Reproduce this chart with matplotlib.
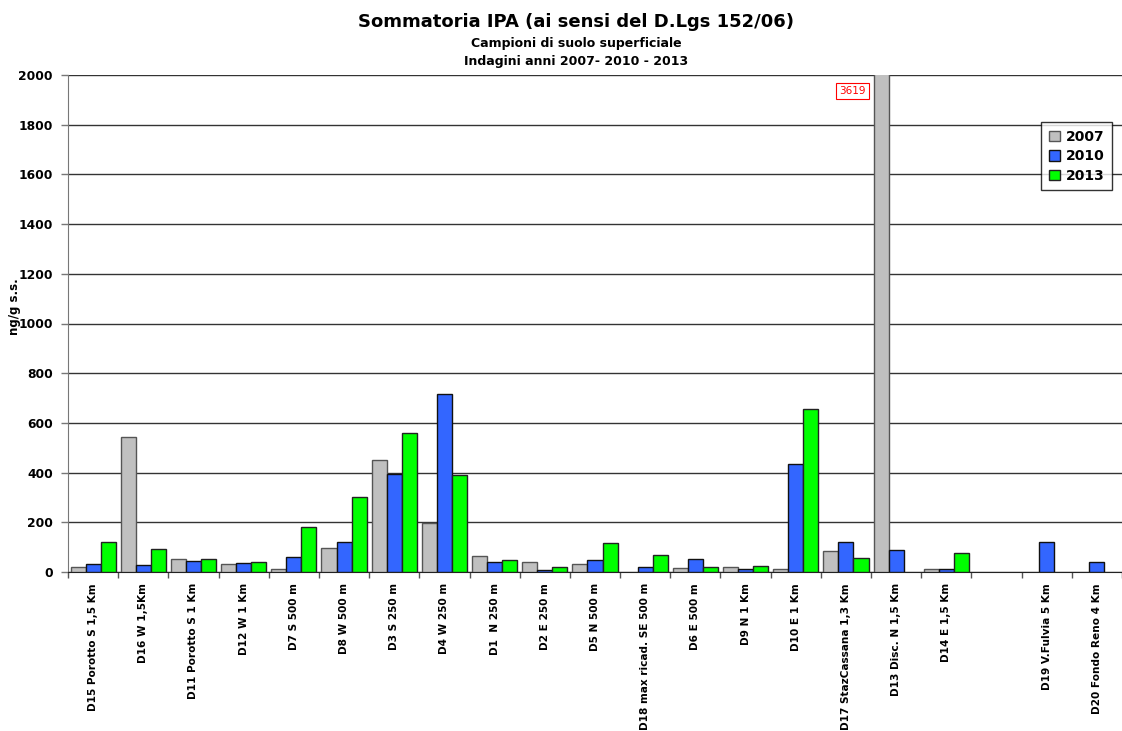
import numpy as np
import matplotlib
matplotlib.use("Agg")
import matplotlib.pyplot as plt

# Sampling points (one empty slot between D14 and D19)
stations = [
    "D15 Porotto S 1,5 Km", "D16 W 1,5Km", "D11 Porotto S 1 Km", "D12 W 1 Km",
    "D7 S 500 m", "D8 W 500 m", "D3 S 250 m", "D4 W 250 m", "D1  N 250 m",
    "D2 E 250 m", "D5 N 500 m", "D18 max ricad. SE 500 m", "D6 E 500 m",
    "D9 N 1 Km", "D10 E 1 Km", "D17 StazCassana 1,3 Km", "D13 Disc. N 1,5 Km",
    "D14 E 1,5 Km", "", "D19 V.Fulvia 5 Km", "D20 Fondo Reno 4 Km",
]
nan = np.nan
ipa_2007 = [22, 542, 54, 33, 12, 98, 452, 196, 65, 41, 33, nan, 16, 20, 14, 84, 3619, 12, nan, nan, nan]
ipa_2010 = [33, 29, 44, 37, 62, 120, 396, 716, 41, 8, 48, 22, 52, 14, 434, 120, 88, 12, nan, 120, 41]
ipa_2013 = [120, 92, 54, 41, 182, 301, 561, 390, 48, 20, 117, 70, 20, 26, 654, 58, nan, 77, nan, nan, nan]
years = ["2007", "2010", "2013"]
colors = ["#C0C0C0", "#3366FF", "#00FF00"]
edges = ["#555555", "#111111", "#222222"]

plt.rcParams["font.family"] = "DejaVu Sans"
plt.rcParams["font.weight"] = "bold"

fig = plt.figure(figsize=(11.22, 7.31), dpi=100)
ax = fig.add_axes([68 / 1122, 1 - 572 / 731, 1 - 68 / 1122, (572 - 75) / 731])

x = np.arange(len(stations))
w = 0.3
for i, (vals, c, ec, lab) in enumerate(zip([ipa_2007, ipa_2010, ipa_2013], colors, edges, years)):
    ax.bar(x + (i - 1) * w, vals, width=w, color=c, edgecolor=ec, linewidth=1.0,
           label=lab, zorder=3)

ax.set_ylim(0, 2000)
ax.set_xlim(-0.5, 20.41)
ax.set_yticks(np.arange(0, 2001, 200))
ax.yaxis.grid(True, color="#333333", linewidth=1.0, zorder=0)
ax.tick_params(axis="y", labelsize=8.8, length=5, width=1, color="#777777", pad=6)
for t in ax.get_yticklabels():
    t.set_fontweight("bold")

# category labels centred, tick marks on the boundaries
ax.set_xticks(x)
ax.set_xticklabels(stations, rotation=90, fontsize=7.6, fontweight="bold", va="top")
ax.tick_params(axis="x", length=0, pad=8)
ax.set_xticks(np.arange(-0.5, 21, 1), minor=True)
ax.tick_params(axis="x", which="minor", length=4, width=1, color="#555555")

for s in ["top", "right"]:
    ax.spines[s].set_visible(False)
ax.spines["left"].set_color("#777777")
ax.spines["bottom"].set_color("#222222")

ax.set_ylabel("ng/g s.s.", fontsize=8.5, fontweight="bold")
ax.yaxis.set_label_coords(-0.0445, 0.533)

# value of the clipped D13 bar
ax.text(16 - w - 0.57, 1935, f"{ipa_2007[16]:.0f}", color="red", fontsize=7.5,
        fontweight="normal", ha="center", va="center", zorder=5,
        bbox=dict(boxstyle="square,pad=0.3", facecolor="white", edgecolor="red", linewidth=0.8))

leg = ax.legend(loc="upper right", fontsize=10, frameon=True, fancybox=False,
                edgecolor="black", handlelength=0.8, handleheight=0.8, handletextpad=0.4,
                borderpad=0.55, labelspacing=0.4, borderaxespad=0)
leg.set_bbox_to_anchor((1112 / 1122, 1 - 122 / 731), transform=fig.transFigure)
leg.get_frame().set_linewidth(1.0)
for t in leg.get_texts():
    t.set_fontweight("bold")

fig.text(576 / 1122, 1 - 22 / 731, "Sommatoria IPA (ai sensi del D.Lgs 152/06)",
         ha="center", va="center", fontsize=13, fontweight="bold")
fig.text(576 / 1122, 1 - 44 / 731, "Campioni di suolo superficiale",
         ha="center", va="center", fontsize=9, fontweight="bold")
fig.text(576 / 1122, 1 - 62 / 731, "Indagini anni 2007- 2010 - 2013",
         ha="center", va="center", fontsize=9, fontweight="bold")

fig.savefig("out.png", dpi=100)
